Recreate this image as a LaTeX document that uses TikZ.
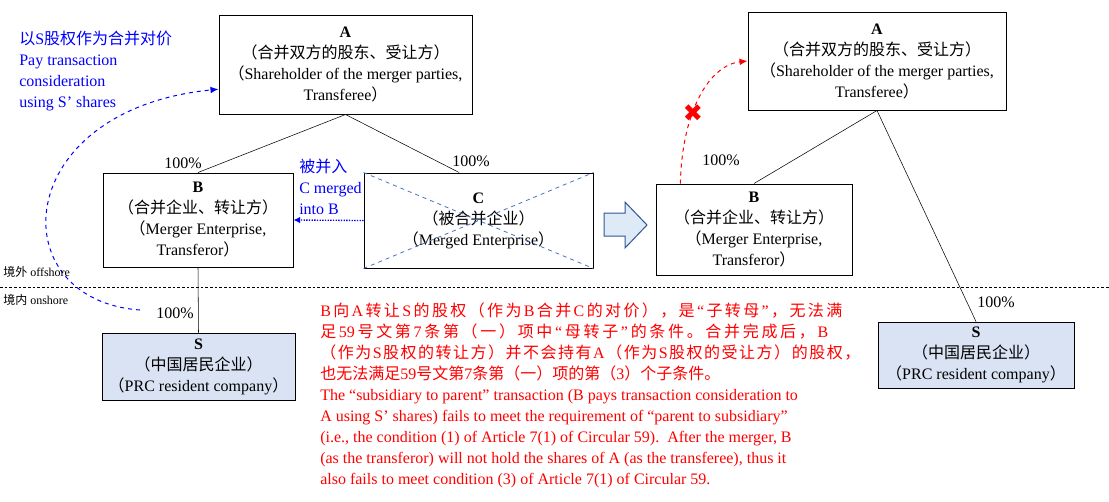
\documentclass[tikz,border=0pt]{standalone}
\usepackage{fontspec}
\usepackage{xcolor}
\usepackage{tikz}
\usetikzlibrary{arrows.meta}
\setmainfont{Liberation Serif}
\newfontfamily\cjk{Noto Sans CJK SC}
\newfontfamily\symb{DejaVu Sans}
\XeTeXinterchartokenstate=1
\newXeTeXintercharclass\zhclass
\newcount\zhc
\zhc="4E00 \loop\XeTeXcharclass\zhc=\zhclass\ifnum\zhc<"9FFF\advance\zhc by 1 \repeat
\zhc="3000 \loop\XeTeXcharclass\zhc=\zhclass\ifnum\zhc<"303F\advance\zhc by 1 \repeat
\zhc="FF00 \loop\XeTeXcharclass\zhc=\zhclass\ifnum\zhc<"FFEF\advance\zhc by 1 \repeat
\XeTeXinterchartoks 0 \zhclass = {\hskip0pt plus 1pt\relax\cjk}
\XeTeXinterchartoks 4095 \zhclass = {\cjk}
\XeTeXinterchartoks \zhclass 0 = {\rmfamily\hskip0pt plus 1pt\relax}
\XeTeXinterchartoks \zhclass 4095 = {\rmfamily}
\XeTeXinterchartoks \zhclass \zhclass = {\hskip0pt plus 1pt\relax}
\newcommand{\jline}[2]{\makebox[#1][s]{#2}}
\definecolor{sfill}{RGB}{218,227,243}
\definecolor{afill}{RGB}{222,235,247}
\definecolor{aline}{RGB}{47,85,151}
\definecolor{xline}{RGB}{68,114,196}

\begin{document}
\begin{tikzpicture}[x=0.75pt, y=-0.75pt,
  every node/.style={font=\fontsize{12}{15.75}\selectfont},
  box/.style={draw, line width=0.75pt, align=center, inner sep=0pt},
  pct/.style={inner sep=0pt},
  small/.style={font=\fontsize{9}{11}\selectfont, inner sep=0pt, anchor=west}]
\useasboundingbox (0,0) rectangle (1109,501);

% before the merger
\node[box, minimum width=189.75pt, minimum height=74.25pt] (A1) at (345.5,64.5)
  {\textbf{A}\\（合并双方的股东、受让方）\\（Shareholder of the merger parties,\\Transferee）};
\node[box, minimum width=142.5pt, minimum height=70.5pt] (B1) at (198,220)
  {\textbf{B}\\（合并企业、转让方）\\（Merger Enterprise,\\Transferor）};
\node[box, minimum width=171.75pt, minimum height=71.25pt] (C1) at (478.5,220.5)
  {\textbf{C}\\（被合并企业）\\（Merged Enterprise）};
\node[box, fill=sfill, minimum width=144.75pt, minimum height=50.25pt] (S1) at (198.5,366.5)
  {\textbf{S}\\（中国居民企业）\\（PRC resident company）};
\draw[xline, dashed, line width=0.6pt] (C1.north west) -- (C1.south east);
\draw[xline, dashed, line width=0.6pt] (C1.south west) -- (C1.north east);
\draw (A1.south) -- (B1.north);
\draw (A1.south) -- (C1.112);
\draw (B1.south) -- (S1.north);
\node[pct] (p1) at (183,163) {100\%};
\node[pct] (p2) at (471,161) {100\%};
\node[pct] (p3) at (175,313) {100\%};
\draw[blue, densely dotted, line width=1pt, -{Latex[length=5pt,width=5pt]}] (C1.west) -- (B1.east);
\node[text=blue, align=left, anchor=north west, inner sep=0pt] (merged) at (299,159)
  {被并入\\C merged\\into B};
\node[text=blue, align=left, anchor=north west, inner sep=0pt] (pay) at (19,31)
  {以S股权作为合并对价\\Pay transaction\\consideration\\using S’ shares};
\coordinate (paystart) at (140,310);
\draw[blue, dashed, line width=0.75pt, -{Latex[length=6pt,width=5pt]}] (paystart) .. controls (0,300) and (10,110) .. (A1.191);

% offshore / onshore
\coordinate (ll) at (0,287);
\coordinate (lr) at (1109,287);
\draw[dash pattern=on 2pt off 1.5pt, line width=0.6pt] (ll) -- (lr);
\node[small] (off) at (3,272) {境外 offshore};
\node[small] (on) at (3,300) {境内 onshore};

% block arrow
\draw[aline, fill=afill, line width=0.75pt] (604,213) -- (625,213) -- (625,202) -- (647,225) -- (625,248) -- (625,236) -- (604,236) -- cycle;

% after the merger
\node[box, minimum width=193.5pt, minimum height=73.5pt] (A2) at (877,61)
  {\textbf{A}\\（合并双方的股东、受让方）\\（Shareholder of the merger parties,\\Transferee）};
\node[box, minimum width=147pt, minimum height=68.25pt] (B2) at (754,229.5)
  {\textbf{B}\\（合并企业、转让方）\\（Merger Enterprise,\\Transferor）};
\node[box, fill=sfill, minimum width=147pt, minimum height=49.5pt] (S2) at (976,355)
  {\textbf{S}\\（中国居民企业）\\（PRC resident company）};
\draw (A2.south) -- (B2.north);
\draw (A2.south) -- (S2.north);
\node[pct] (p4) at (721,160) {100\%};
\node[pct] (p5) at (996,302) {100\%};
\draw[red, dashed, line width=0.75pt, -{Latex[length=6pt,width=5pt]}] (B2.148) .. controls (682,110) and (710,65) .. (A2.west);
\node[text=red, inner sep=0pt, font=\symb\fontsize{18}{18}\selectfont] (no) at (693,113) {✖};

% note
\node[text=red, align=left, anchor=north west, inner sep=0pt] (note) at (320,303)
  {\jline{391.5pt}{B向A转让S的股权（作为B合并C的对价），是“子转母”，无法满}\\
   \jline{381pt}{足59号文第7条第（一）项中“母转子”的条件。合并完成后，B}\\
   \jline{405pt}{（作为S股权的转让方）并不会持有A（作为S股权的受让方）的股权，}\\
   也无法满足59号文第7条第（一）项的第（3）个子条件。\\
   The “subsidiary to parent” transaction (B pays transaction consideration to\\
   A using S’ shares) fails to meet the requirement of “parent to subsidiary”\\
   (i.e., the condition (1) of Article 7(1) of Circular 59).\ \ After the merger, B\\
   (as the transferor) will not hold the shares of A (as the transferee), thus it\\
   also fails to meet condition (3) of Article 7(1) of Circular 59.};
\end{tikzpicture}
\end{document}
